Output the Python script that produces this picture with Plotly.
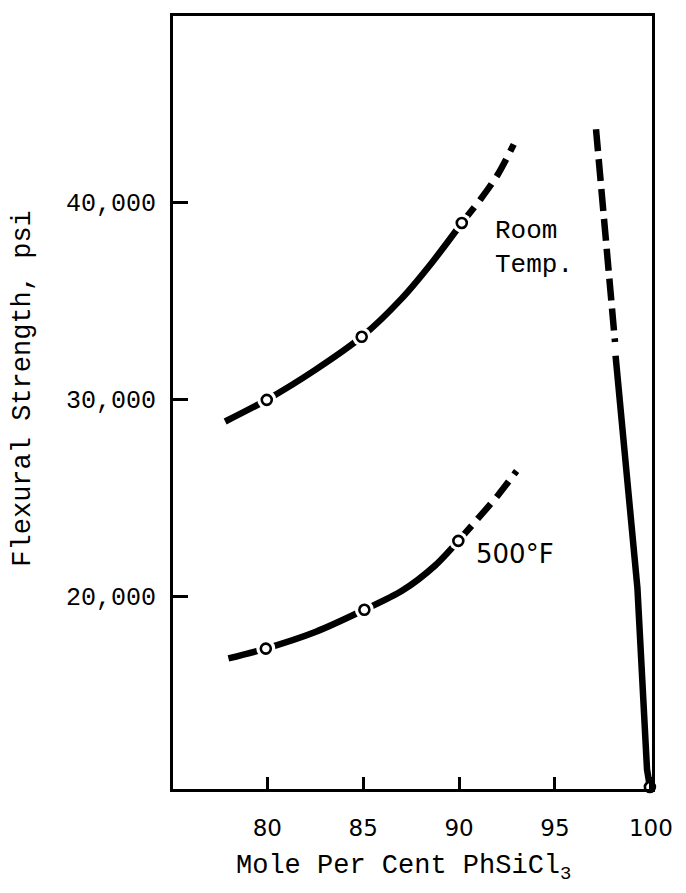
import plotly.graph_objects as go

# ---- data ----
rt_solid_x = [77.8, 79.97, 82.5, 84.92, 87.0, 88.6, 90.14]
rt_solid_y = [28860, 29960, 31480, 33160, 35100, 36950, 38940]
rt_dash_x = [90.14, 91.2, 92.05, 92.85]
rt_dash_y = [38940, 40250, 41450, 42930]
rt_pts_x = [79.97, 84.92, 90.14]
rt_pts_y = [29960, 33160, 38940]

hot_solid_x = [77.97, 79.92, 82.5, 85.06, 87.0, 88.75, 89.96]
hot_solid_y = [16830, 17330, 18170, 19300, 20250, 21550, 22800]
hot_dash_x = [89.96, 91.0, 92.04, 93.0]
hot_dash_y = [22800, 23950, 25130, 26350]
hot_pts_x = [79.92, 85.06, 89.96]
hot_pts_y = [17330, 19300, 22800]

pure_dash_x = [97.14, 97.6, 98.13]
pure_dash_y = [43700, 38300, 32900]
pure_solid_x = [98.16, 99.3, 99.8, 99.95]
pure_solid_y = [32200, 20400, 11200, 10300]
pure_pts_x = [99.95]
pure_pts_y = [10300]

x_ticks = [80, 85, 90, 95, 100]
x_ticktext = ["80", "85", "90", "95", "100"]
y_ticks = [20000, 30000, 40000]
y_ticktext = ["20,000", "30,000", "40,000"]

MONO = "Courier New, Courier, Liberation Mono, monospace"
SANS = "DejaVu Sans, sans-serif"
LW = 6.5

fig = go.Figure()

def line(x, y, dash="solid", shape="spline", width=LW):
    fig.add_trace(go.Scatter(x=x, y=y, mode="lines", line_shape=shape,
                             line=dict(color="black", width=width, dash=dash,
                                       smoothing=0.8 if shape == "spline" else None),
                             hoverinfo="skip", showlegend=False))

line(rt_solid_x, rt_solid_y)
line(rt_dash_x, rt_dash_y, "20px,9px")
line(hot_solid_x, hot_solid_y)
line(hot_dash_x, hot_dash_y, "20px,9px")
line(pure_dash_x, pure_dash_y, "22 8", "linear", 6.5)
line(pure_solid_x, pure_solid_y, "solid", "linear")

# white halos to open gaps around the points
for px, py in [(rt_pts_x, rt_pts_y), (hot_pts_x, hot_pts_y)]:
    fig.add_trace(go.Scatter(x=px, y=py, mode="markers",
                             marker=dict(size=19, color="white", line=dict(width=0)),
                             hoverinfo="skip", showlegend=False))

for px, py in [(rt_pts_x, rt_pts_y), (hot_pts_x, hot_pts_y), (pure_pts_x, pure_pts_y)]:
    fig.add_trace(go.Scatter(x=px, y=py, mode="markers", cliponaxis=False,
                             marker=dict(size=10, color="white", symbol="circle",
                                         line=dict(color="black", width=2.6)),
                             hoverinfo="skip", showlegend=False))

fig.update_layout(
    width=678, height=885,
    margin=dict(l=165, r=34, t=5, b=104),
    paper_bgcolor="white", plot_bgcolor="white",
    showlegend=False,
    xaxis=dict(range=[75.08, 100.06], tickvals=x_ticks, ticktext=x_ticktext,
               ticks="inside", ticklen=12, tickwidth=3, tickcolor="black",
               showline=True, linewidth=3, linecolor="black", mirror=True,
               showgrid=False, zeroline=False, ticklabelstandoff=16,
               tickfont=dict(family=SANS, size=23, color="black")),
    yaxis=dict(range=[10200, 49450], tickvals=y_ticks, ticktext=y_ticktext,
               ticks="inside", ticklen=15, tickwidth=3, tickcolor="black",
               showline=True, linewidth=3, linecolor="black", mirror=True,
               showgrid=False, zeroline=False, ticklabelstandoff=9,
               tickfont=dict(family=MONO, size=25, color="black")),
    annotations=[
        dict(text="Mole Per Cent PhSiCl<sub>3</sub>", xref="paper", yref="paper",
             x=0.481, y=-0.102, xanchor="center", yanchor="middle", showarrow=False,
             font=dict(family=MONO, size=27, color="black")),
        dict(text="Flexural Strength, psi", xref="paper", yref="paper",
             x=-0.313, y=0.518, xanchor="center", yanchor="middle", showarrow=False,
             textangle=-90, font=dict(family=MONO, size=27, color="black")),
        dict(text="Room<br>Temp.", x=91.75, y=37650, xanchor="left", yanchor="middle",
             align="left", showarrow=False,
             font=dict(family=MONO, size=26, color="black")),
        dict(text="500°F", x=90.8, y=22150, xanchor="left", yanchor="middle",
             showarrow=False, font=dict(family=SANS, size=26, color="black")),
    ],
)

fig.write_html("out.html")
